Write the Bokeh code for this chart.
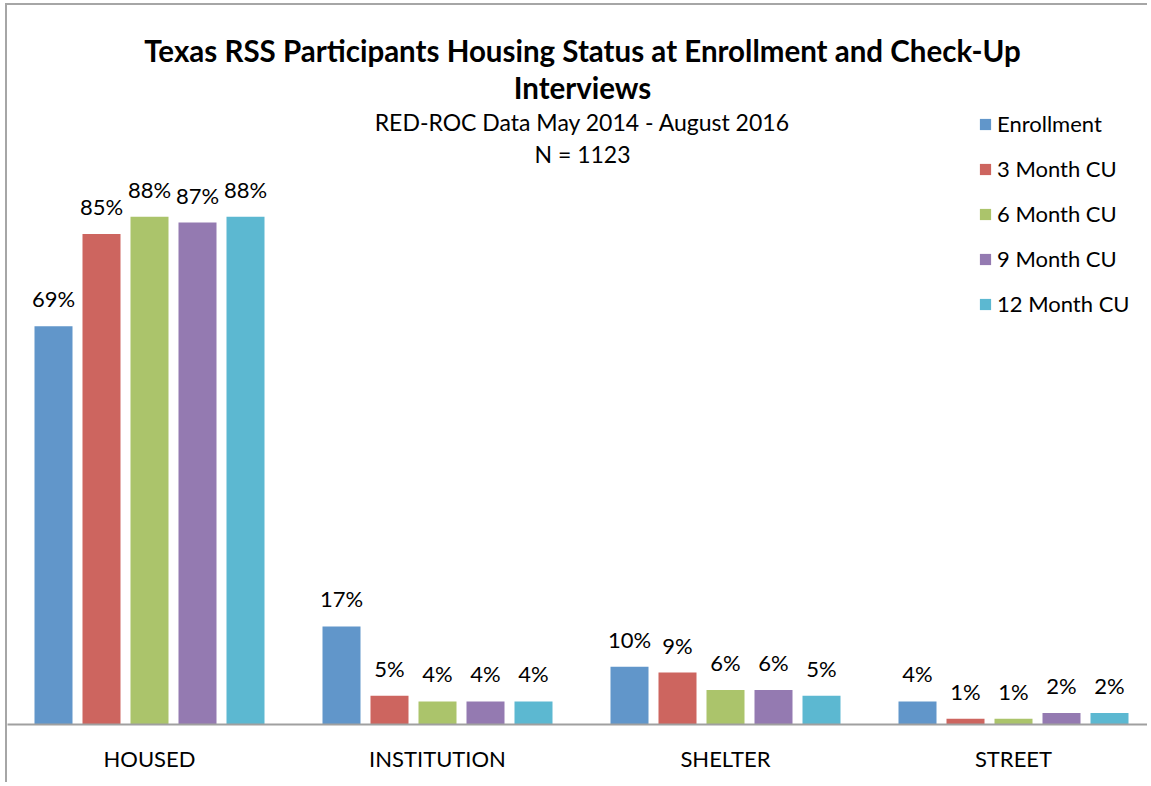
from bokeh.plotting import figure
from bokeh.models import (ColumnDataSource, Range1d, FixedTicker, LabelSet, Label,
                          Legend, LegendItem, LinearAxis)
from bokeh.core.properties import value
from bokeh.embed import file_html
from bokeh.resources import INLINE

# ---- data ----
categories = ["HOUSED", "INSTITUTION", "SHELTER", "STREET"]
series = ["Enrollment", "3 Month CU", "6 Month CU", "9 Month CU", "12 Month CU"]
enrollment = [69, 17, 10, 4]
month3 = [85, 5, 9, 1]
month6 = [88, 4, 6, 1]
month9 = [87, 4, 6, 2]
month12 = [88, 4, 5, 2]
colors = ["#6196CA", "#CD655F", "#ABC46B", "#947AB1", "#5CB8D1"]

values = [enrollment, month3, month6, month9, month12]

W, H = 1142, 779
FRAME_H = 719
p = figure(width=W, height=H, output_backend="svg", toolbar_location=None,
           x_range=Range1d(2 / 288, (2 + W) / 288), y_range=Range1d(0, FRAME_H / 5.77),
           x_axis_location=None, y_axis_location=None,
           min_border_left=0, min_border_right=0, min_border_top=0,
           min_border_bottom=H - FRAME_H)
p.styles = {"border-top": "2px solid #A6A6A6", "border-left": "2px solid #A6A6A6",
            "margin-left": "5px", "margin-top": "3px"}
p.grid.visible = False
p.outline_line_color = None
p.background_fill_color = "white"
p.border_fill_color = "white"

n = len(series)
pitch = 1.0 / 6
bar_w = 38 / 288
items = []
for j, (name, vals, col) in enumerate(zip(series, values, colors)):
    xs = [i + 0.5 + (j - (n - 1) / 2) * pitch for i in range(len(categories))]
    src = ColumnDataSource(dict(x=xs, top=vals, label=[f"{v}%" for v in vals]))
    r = p.vbar(x="x", top="top", width=bar_w, source=src, fill_color=col,
               line_color=None)
    items.append(LegendItem(label=name, renderers=[r]))
    p.add_layout(LabelSet(x="x", y="top", text="label", source=src, y_offset=19,
                          text_align="center", text_baseline="alphabetic",
                          text_font=value("Lato"), text_font_size=value("22px"),
                          text_color="#000000"))

xaxis = LinearAxis(ticker=FixedTicker(ticks=[i + 0.5 for i in range(len(categories))]),
                   major_label_overrides={i + 0.5: c for i, c in enumerate(categories)})
xaxis.axis_line_color = "#A0A0A0"
xaxis.axis_line_width = 2
xaxis.major_tick_line_color = None
xaxis.minor_tick_line_color = None
xaxis.major_label_standoff = 14
xaxis.major_label_text_font = "Lato"
xaxis.major_label_text_font_size = "22px"
xaxis.major_label_text_color = "#000000"
p.add_layout(xaxis, "below")

legend = Legend(items=items, location=(971, 407), glyph_width=14, glyph_height=14,
                label_standoff=5, spacing=18, padding=0, margin=0,
                border_line_color=None, background_fill_alpha=0,
                label_text_font="Lato", label_text_font_size="22px",
                label_text_color="#000000")
p.add_layout(legend, "center")

title_lines = [
    ("Texas RSS Participants Housing Status at Enrollment and Check-Up", 674, "bold", "29.5px"),
    ("Interviews", 637, "bold", "29.5px"),
    ("RED-ROC Data May 2014 - August 2016", 603, "normal", "23px"),
    ("N = 1123", 571, "normal", "23px"),
]
for txt, yy, style, size in title_lines:
    p.add_layout(Label(x=575, y=yy, x_units="screen", y_units="screen", text=txt,
                       text_align="center", text_baseline="alphabetic",
                       text_font="Lato", text_font_style=style, text_font_size=size,
                       text_color="#000000"))

open("out.html", "w").write(file_html(p, INLINE))
